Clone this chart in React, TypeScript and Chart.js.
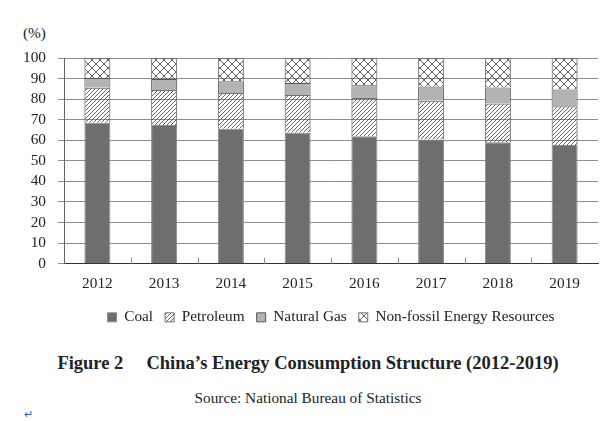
import React, { useEffect, useRef } from "react";
import { Chart, registerables } from "chart.js";

Chart.register(...registerables);

const years = ["2012", "2013", "2014", "2015", "2016", "2017", "2018", "2019"];
const coal = [68.5, 67.4, 65.6, 63.7, 62.0, 60.4, 59.0, 57.7];
const petroleum = [17.0, 17.1, 17.4, 18.3, 18.5, 18.8, 18.9, 18.9];
const naturalGas = [4.8, 5.3, 5.7, 5.9, 6.2, 7.0, 7.8, 8.1];
const nonFossil = [9.7, 10.2, 11.3, 12.1, 13.3, 13.8, 14.3, 15.3];
const seriesNames = ["Coal", "Petroleum", "Natural Gas", "Non-fossil Energy Resources"];
const yTicks = [0, 10, 20, 30, 40, 50, 60, 70, 80, 90, 100];

const FONT = "'Liberation Serif', 'Times New Roman', serif";
const FS = 15.3;

function makeHatch(): CanvasPattern | string {
  const c = document.createElement("canvas");
  const s = 4;
  c.width = s;
  c.height = s;
  const g = c.getContext("2d");
  if (!g) return "#ccc";
  g.clearRect(0, 0, s, s);
  g.strokeStyle = "#4a4a4a";
  g.lineWidth = 0.85;
  g.beginPath();
  g.moveTo(0, s);
  g.lineTo(s, 0);
  g.moveTo(-1, 1);
  g.lineTo(1, -1);
  g.moveTo(s - 1, s + 1);
  g.lineTo(s + 1, s - 1);
  g.stroke();
  return g.createPattern(c, "repeat") as CanvasPattern;
}

function makeCross(): CanvasPattern | string {
  const c = document.createElement("canvas");
  const s = 8;
  c.width = s;
  c.height = s;
  const g = c.getContext("2d");
  if (!g) return "#ddd";
  g.clearRect(0, 0, s, s);
  g.strokeStyle = "#606060";
  g.lineWidth = 1;
  g.beginPath();
  g.moveTo(0, 0);
  g.lineTo(s, s);
  g.moveTo(0, s);
  g.lineTo(s, 0);
  g.stroke();
  return g.createPattern(c, "repeat") as CanvasPattern;
}

const innerTicks = {
  id: "innerTicks",
  afterDatasetsDraw(chart: any) {
    const xs = chart.scales.x;
    const bottom = chart.chartArea.bottom;
    const ctx = chart.ctx;
    ctx.save();
    ctx.strokeStyle = "#8a8a8a";
    ctx.lineWidth = 1;
    for (let i = 1; i < years.length; i++) {
      const p = Math.round((xs.getPixelForValue(i - 1) + xs.getPixelForValue(i)) / 2) + 0.5;
      ctx.beginPath();
      ctx.moveTo(p, bottom);
      ctx.lineTo(p, bottom - 6);
      ctx.stroke();
    }
    ctx.restore();
  },
};

export default function App() {
  const ref = useRef<HTMLCanvasElement | null>(null);

  useEffect(() => {
    document.body.style.margin = "0";
    const canvas = ref.current;
    if (!canvas) return;
    const hatch = makeHatch();
    const cross = makeCross();
    const common = { borderColor: "#707070", borderWidth: 1, barPercentage: 0.39, categoryPercentage: 1 };
    const chart = new Chart(canvas, {
      type: "bar",
      data: {
        labels: years,
        datasets: [
          { label: seriesNames[0], data: coal, backgroundColor: "#6e6e6e", ...common, borderColor: "#8a8a8a" },
          { label: seriesNames[1], data: petroleum, backgroundColor: hatch, ...common },
          { label: seriesNames[2], data: naturalGas, backgroundColor: "#b3b3b3", ...common, borderColor: "#555" },
          { label: seriesNames[3], data: nonFossil, backgroundColor: cross, ...common },
        ],
      },
      options: {
        responsive: false,
        animation: false,
        layout: { padding: { top: 58, right: 2, left: 0, bottom: 0 } },
        plugins: {
          tooltip: { enabled: false },
          legend: {
            position: "bottom",
            fullSize: false,
            labels: {
              boxWidth: 9,
              boxHeight: 9,
              padding: 12,
              color: "#222",
              font: { family: FONT, size: FS },
            },
          },
        },
        scales: {
          x: {
            stacked: true,
            grid: { display: false },
            border: { display: true, color: "#333", width: 1 },
            ticks: { color: "#222", font: { family: FONT, size: FS }, padding: 3, autoSkip: false, maxRotation: 0 },
            afterFit(scale: any) {
              scale.height = 34;
            },
          },
          y: {
            stacked: true,
            min: 0,
            max: 100,
            afterBuildTicks(scale: any) {
              scale.ticks = yTicks.map((v) => ({ value: v }));
            },
            grid: { color: "#8e8e8e", lineWidth: 1, tickLength: 6, drawTicks: true },
            border: { display: true, color: "#666", width: 1 },
            ticks: { color: "#222", font: { family: FONT, size: FS }, padding: 12, autoSkip: false },
            afterFit(scale: any) {
              scale.width = 64;
            },
          },
        },
      },
      plugins: [innerTicks],
    } as any);
    return () => chart.destroy();
  }, []);

  return (
    <div style={{ position: "relative", width: 600, height: 421, background: "#fff", fontFamily: FONT }}>
      <div style={{ position: "absolute", left: 23, top: 24, fontSize: FS, color: "#222" }}>(%)</div>
      <canvas ref={ref} width={600} height={335} style={{ position: "absolute", left: 0, top: 0, width: 600, height: 335 }} />
      <div
        style={{
          position: "absolute",
          left: 8,
          width: 600,
          top: 353,
          textAlign: "center",
          fontSize: 18.5,
          fontWeight: "bold",
          color: "#222",
          whiteSpace: "pre",
        }}
      >
        {"Figure 2     China\u2019s Energy Consumption Structure (2012-2019)"}
      </div>
      <div
        style={{
          position: "absolute",
          left: 8,
          width: 600,
          top: 389,
          textAlign: "center",
          fontSize: FS,
          color: "#222",
        }}
      >
        Source: National Bureau of Statistics
      </div>
      <div style={{ position: "absolute", left: 24, top: 408, fontSize: 11, color: "#2a62d8" }}>{"\u21B5"}</div>
    </div>
  );
}
